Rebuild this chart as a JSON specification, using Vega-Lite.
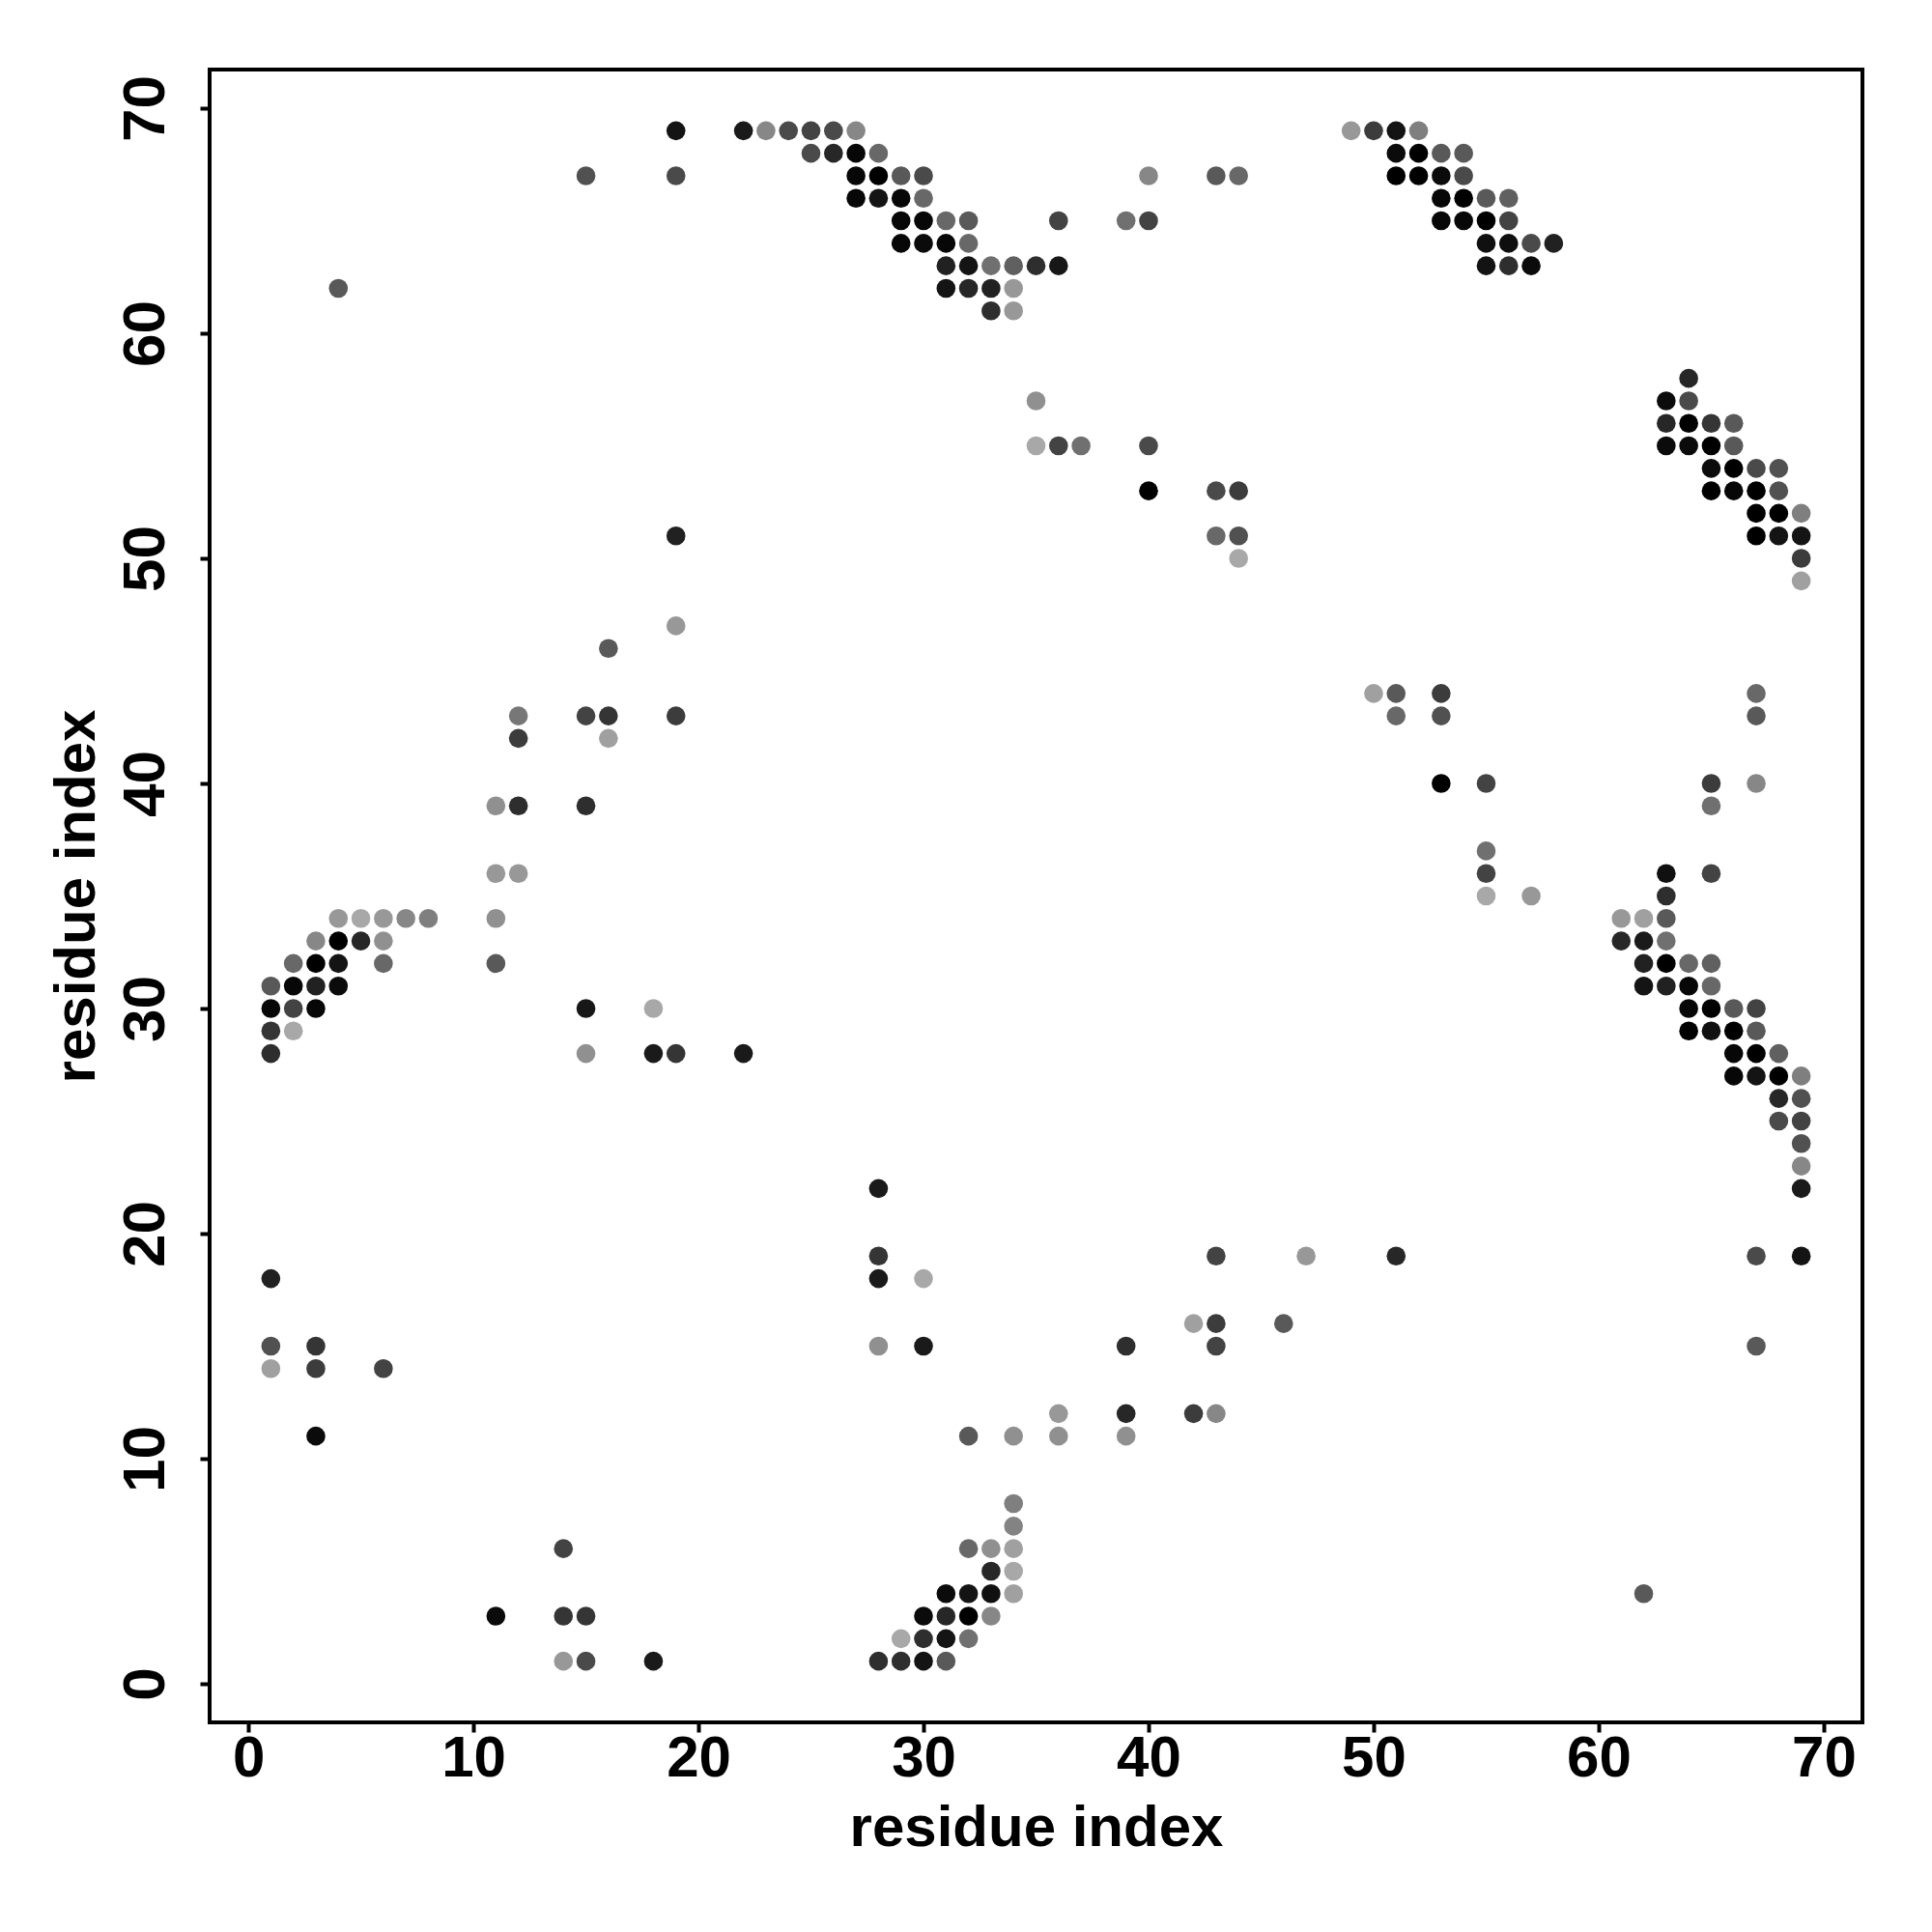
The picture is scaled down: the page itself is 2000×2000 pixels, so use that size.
{"$schema":"https://vega.github.io/schema/vega-lite/v6.json","width":1711,"height":1711,"autosize":{"type":"none"},"padding":{"left":217,"top":72,"right":72,"bottom":217},"background":"white","config":{"view":{"stroke":"black","strokeWidth":4,"fill":"white"}},"datasets":{"contacts":[
[19,69,16],[22,69,24],[23,69,144],[24,69,80],[25,69,72],[26,69,80],[27,69,144],[49,69,160],[50,69,64],[51,69,16],[52,69,136],
[25,68,80],[26,68,40],[27,68,5],[28,68,112],[51,68,8],[52,68,0],[53,68,96],[54,68,96],
[15,67,88],[19,67,80],[27,67,5],[28,67,0],[29,67,96],[30,67,80],[40,67,144],[43,67,96],[44,67,112],[51,67,0],[52,67,0],[53,67,8],[54,67,80],
[27,66,5],[28,66,16],[29,66,5],[30,66,112],[53,66,5],[54,66,0],[55,66,96],[56,66,104],
[29,65,5],[30,65,5],[31,65,112],[32,65,96],[36,65,72],[39,65,120],[40,65,72],[53,65,5],[54,65,5],[55,65,0],[56,65,72],
[29,64,5],[30,64,8],[31,64,5],[32,64,112],[55,64,12],[56,64,10],[57,64,80],[58,64,32],
[31,63,32],[32,63,16],[33,63,120],[34,63,104],[35,63,48],[36,63,20],[55,63,15],[56,63,48],[57,63,8],
[4,62,96],[31,62,16],[32,62,40],[33,62,32],[34,62,160],
[33,61,48],[34,61,160],
[64,58,40],
[35,57,152],[63,57,8],[64,57,80],
[63,56,40],[64,56,0],[65,56,56],[66,56,96],
[35,55,176],[36,55,72],[37,55,120],[40,55,80],[63,55,8],[64,55,8],[65,55,0],[66,55,96],
[65,54,8],[66,54,0],[67,54,80],[68,54,88],
[40,53,0],[43,53,80],[44,53,64],[65,53,0],[66,53,5],[67,53,0],[68,53,88],
[67,52,0],[68,52,0],[69,52,136],
[19,51,32],[43,51,112],[44,51,88],[67,51,0],[68,51,16],[69,51,16],
[44,50,176],[69,50,64],
[69,49,168],
[19,47,160],
[16,46,96],
[50,44,168],[51,44,96],[53,44,64],[67,44,112],
[12,43,128],[15,43,72],[16,43,56],[19,43,64],[51,43,112],[53,43,88],[67,43,96],
[12,42,64],[16,42,168],
[53,40,0],[55,40,72],[65,40,64],[67,40,144],
[11,39,152],[12,39,48],[15,39,48],[65,39,120],
[55,37,120],
[11,36,160],[12,36,160],[55,36,72],[63,36,12],[65,36,72],
[55,35,176],[57,35,160],[63,35,48],
[4,34,160],[5,34,176],[6,34,160],[7,34,144],[8,34,136],[11,34,152],[61,34,160],[62,34,168],[63,34,96],
[3,33,144],[4,33,0],[5,33,40],[6,33,152],[61,33,40],[62,33,24],[63,33,120],
[2,32,112],[3,32,0],[4,32,16],[6,32,112],[11,32,96],[62,32,32],[63,32,0],[64,32,112],[65,32,104],
[1,31,96],[2,31,5],[3,31,32],[4,31,8],[62,31,16],[63,31,32],[64,31,5],[65,31,112],
[1,30,5],[2,30,72],[3,30,5],[15,30,20],[18,30,176],[64,30,5],[65,30,0],[66,30,96],[67,30,72],
[1,29,56],[2,29,176],[64,29,0],[65,29,12],[66,29,0],[67,29,96],
[1,28,48],[15,28,152],[18,28,24],[19,28,56],[22,28,24],[66,28,5],[67,28,0],[68,28,104],
[66,27,5],[67,27,16],[68,27,0],[69,27,136],
[68,26,40],[69,26,88],
[68,25,80],[69,25,72],
[69,24,88],
[69,23,144],
[28,22,24],[69,22,24],
[28,19,56],[43,19,72],[47,19,160],[51,19,40],[67,19,80],[69,19,16],
[1,18,32],[28,18,24],[30,18,176],
[42,16,168],[43,16,64],[46,16,96],
[1,15,88],[3,15,56],[28,15,152],[30,15,24],[39,15,48],[43,15,72],[67,15,96],
[1,14,168],[3,14,64],[6,14,72],
[36,12,160],[39,12,40],[42,12,64],[43,12,144],
[3,11,8],[32,11,96],[34,11,152],[36,11,152],[39,11,152],
[34,8,136],
[34,7,140],
[14,6,72],[32,6,112],[33,6,152],[34,6,168],
[33,5,40],[34,5,176],
[31,4,8],[32,4,16],[33,4,12],[34,4,168],[62,4,96],
[11,3,8],[14,3,56],[15,3,56],[30,3,8],[31,3,40],[32,3,0],[33,3,144],
[29,2,176],[30,2,48],[31,2,16],[32,2,120],
[14,1,160],[15,1,80],[18,1,24],[28,1,48],[29,1,48],[30,1,16],[31,1,96]
]},"data":{"name":"contacts"},"transform":[{"calculate":"datum[0]","as":"i"},{"calculate":"datum[1]","as":"j"},{"calculate":"datum[2]","as":"level"}],"mark":{"type":"point","filled":true,"shape":"circle","size":385,"opacity":1,"strokeWidth":0},"encoding":{"x":{"field":"i","type":"quantitative","scale":{"domain":[-1.72,71.72],"nice":false,"zero":false},"axis":{"title":"residue index","values":[0,10,20,30,40,50,60,70],"grid":false,"domain":false,"tickColor":"black","tickWidth":4,"tickSize":10,"labelColor":"black","labelFont":"Liberation Sans","labelFontWeight":"bold","labelFontSize":60,"labelPadding":-2,"labelFlush":false,"labelOverlap":false,"titleColor":"black","titleFont":"Liberation Sans","titleFontWeight":"bold","titleFontSize":60,"titlePadding":13}},"y":{"field":"j","type":"quantitative","scale":{"domain":[-1.72,71.72],"nice":false,"zero":false},"axis":{"title":"residue index","values":[0,10,20,30,40,50,60,70],"grid":false,"domain":false,"tickColor":"black","tickWidth":4,"tickSize":10,"labelColor":"black","labelFont":"Liberation Sans","labelFontWeight":"bold","labelFontSize":62,"labelAngle":-90,"labelAlign":"center","labelBaseline":"bottom","labelPadding":25,"labelFlush":false,"labelOverlap":false,"titleColor":"black","titleFont":"Liberation Sans","titleFontWeight":"bold","titleFontSize":60,"titlePadding":9}},"color":{"field":"level","type":"quantitative","legend":null,"scale":{"domain":[0,255],"range":["#000000","#ffffff"]}}}}
